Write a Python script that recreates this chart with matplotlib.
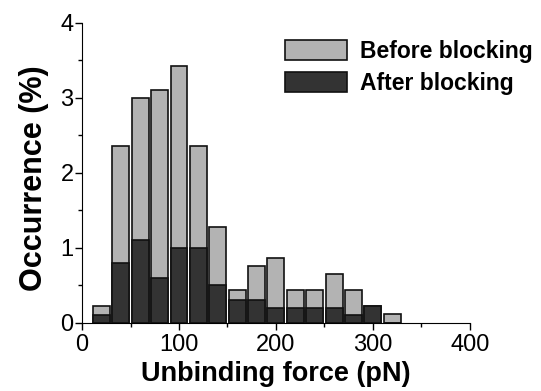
import matplotlib.pyplot as plt
import numpy as np

plt.rcParams['font.family'] = ['Liberation Sans', 'DejaVu Sans']

# bin centres (pN) and occurrence (%)
force = [20, 40, 60, 80, 100, 120, 140, 160, 180, 200, 220, 240, 260, 280, 300, 320]
before = [0.22, 2.36, 3.0, 3.11, 3.43, 2.36, 1.28, 0.43, 0.75, 0.86, 0.43, 0.43, 0.65, 0.43, 0.22, 0.11]
after = [0.10, 0.80, 1.10, 0.60, 1.00, 1.00, 0.50, 0.30, 0.30, 0.20, 0.20, 0.20, 0.20, 0.10, 0.22, 0.0]

fig = plt.figure(figsize=(5.41, 3.91), dpi=100)
ax = fig.add_axes([0.1516, 0.1747, 0.717, 0.767])

ax.bar(force, before, width=17.5, color='#b3b3b3', edgecolor='#111111', linewidth=1.2, label='Before blocking')
ax.bar(force, after, width=17.5, color='#333333', edgecolor='#111111', linewidth=1.2, label='After blocking')

ax.set_xlim(0, 400)
ax.set_ylim(0, 4)
ax.set_xticks([0, 100, 200, 300, 400])
ax.set_xticks([50, 150, 250, 350], minor=True)
ax.set_yticks([0, 1, 2, 3, 4])
ax.set_yticks([0.5, 1.5, 2.5, 3.5], minor=True)
ax.tick_params(which='major', direction='out', length=5, width=1, labelsize=17, pad=1)
ax.tick_params(axis='x', which='major', pad=3)
ax.tick_params(which='minor', direction='out', length=3, width=1)
ax.spines['top'].set_visible(False)
ax.spines['right'].set_visible(False)

ax.set_xlabel('Unbinding force (pN)', fontsize=19.5, fontweight='bold', labelpad=4)
ax.set_ylabel('Occurrence (%)', fontsize=22, fontweight='bold', labelpad=8)
ax.yaxis.label.set_y(0.482)

fig.legend(loc='upper left', bbox_to_anchor=(0.527, 0.898), bbox_transform=fig.transFigure,
           frameon=False, borderpad=0, borderaxespad=0,
           prop={'weight': 'bold', 'size': 16.5},
           handlelength=2.7, handleheight=0.92, handletextpad=0.57, labelspacing=0.4)

fig.savefig('out.png', dpi=100)
